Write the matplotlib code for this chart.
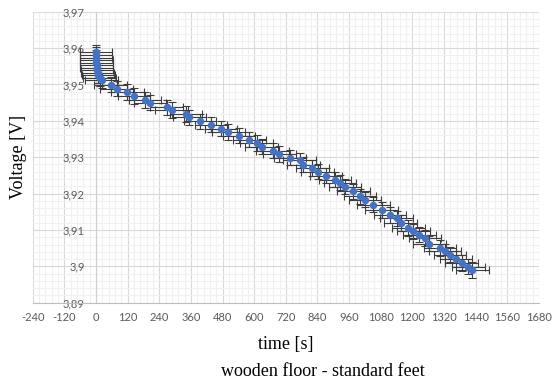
import numpy as np
import matplotlib
matplotlib.use("Agg")
from matplotlib import pyplot as plt
from matplotlib.ticker import MultipleLocator, FuncFormatter

plt.rcParams['axes.unicode_minus'] = False

time_s = [0, 0.3, 0.6, 1, 1.5, 2.1, 2.8, 4, 6, 9, 14, 21,
          56, 78, 119, 144, 186, 205, 268, 287, 341, 354, 394, 436, 474,
          502, 542, 581, 609, 628, 670, 695, 736, 772, 786, 820, 841, 872,
          906, 925, 944, 976, 1001, 1020, 1052, 1083, 1115, 1140, 1155,
          1184, 1203, 1226, 1248, 1264, 1305, 1323, 1342, 1365, 1387,
          1412, 1427]
voltage = [3.9588, 3.9581, 3.9574, 3.9567, 3.9560, 3.9553, 3.9546, 3.9539,
           3.9532, 3.9525, 3.9518, 3.9511,
           3.9499, 3.9488, 3.9479, 3.9468, 3.9457, 3.9450, 3.9437, 3.9430,
           3.9419, 3.9410, 3.9399, 3.9389, 3.9378, 3.9369, 3.9359, 3.9348,
           3.9339, 3.9329, 3.9318, 3.9309, 3.9299, 3.9291, 3.9279, 3.9270,
           3.9260, 3.9249, 3.9238, 3.9230, 3.9219, 3.9206, 3.9192, 3.9183,
           3.9169, 3.9155, 3.9141, 3.9132, 3.9119, 3.9105, 3.9096, 3.9087,
           3.9078, 3.9062, 3.9050, 3.9041, 3.9032, 3.9020, 3.9009, 3.8999,
           3.8990]
time_err = 62
volt_err = 0.0021

x_ticks = list(range(-240, 1681, 120))
y_ticks = [3.89, 3.90, 3.91, 3.92, 3.93, 3.94, 3.95, 3.96, 3.97]

fig = plt.figure(figsize=(5.52, 3.85), dpi=100)
ax = fig.add_axes([32.7 / 552, 1 - 302.7 / 385, 506.3 / 552, 291 / 385])

ax.errorbar(time_s, voltage, xerr=time_err, yerr=volt_err, fmt='none',
            ecolor='#3c3c3c', elinewidth=0.8, capsize=3, capthick=0.8,
            zorder=3)
ax.plot(time_s, voltage, 'o', color='#4472C4', ms=5.4, mew=0, zorder=4)

ax.set_xlim(-240, 1680)
ax.set_ylim(3.89, 3.97)
ax.set_xticks(x_ticks)
ax.set_yticks(y_ticks)
ax.xaxis.set_minor_locator(MultipleLocator(24))
ax.yaxis.set_minor_locator(MultipleLocator(0.002))
ax.yaxis.set_major_formatter(FuncFormatter(lambda v, p: f"{v:g}".replace('.', ',')))

ax.grid(which='major', color='#d9d9d9', lw=0.8, zorder=0)
ax.grid(which='minor', color='#f0f0f0', lw=0.8, zorder=0)
ax.set_axisbelow(True)

for s in ('top', 'right'):
    ax.spines[s].set_visible(False)
ax.spines['left'].set_position(('data', 0))
ax.spines['left'].set_color('#d0d0d0')
ax.spines['bottom'].set_color('#bfbfbf')

ax.tick_params(which='both', length=0)
ax.tick_params(axis='x', pad=7)
ax.tick_params(axis='y', pad=8)
for lab in ax.get_xticklabels() + ax.get_yticklabels():
    lab.set_fontfamily('Lato')
    lab.set_fontsize(8)
    lab.set_color('#595959')

serif = 'Liberation Serif'
ax.set_xlabel('time [s]', family=serif, fontsize=13, labelpad=9)
ax.set_ylabel('Voltage [V]', family=serif, fontsize=13)
ax.yaxis.set_label_coords(-0.011, 0.5)
fig.text(323 / 552, 1 - 371.5 / 385, 'wooden floor - standard feet',
         family=serif, fontsize=13, ha='center', va='center')

fig.savefig('out.png', dpi=100)
